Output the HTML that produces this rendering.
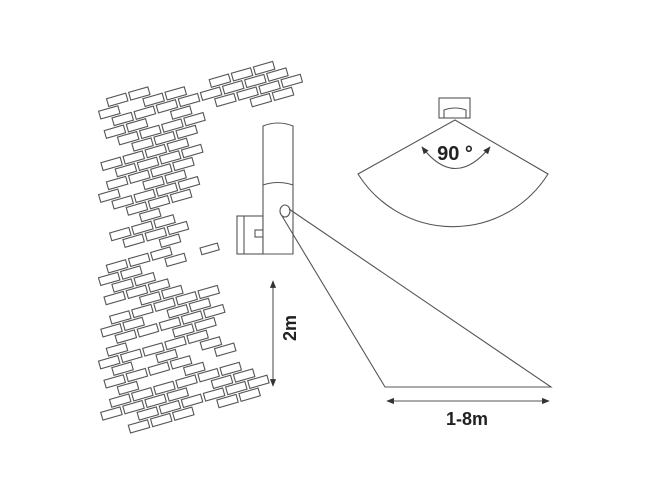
<!DOCTYPE html>
<html><head><meta charset="utf-8"><style>
html,body{margin:0;padding:0;background:#fff;}
svg{display:block;}
text{font-family:"Liberation Sans",sans-serif;font-weight:bold;fill:#222;}
</style></head><body>
<svg id="s" width="666" height="500" viewBox="0 0 666 500" xmlns="http://www.w3.org/2000/svg">
<defs>
<marker id="ah" viewBox="0 0 10 10" refX="9" refY="5" markerWidth="7" markerHeight="7" orient="auto-start-reverse"><path d="M0,1 L10,5 L0,9 z" fill="#333"/></marker>
</defs>
<g id="bricks" fill="#fff" stroke="#555" stroke-width="1.1"></g>
<g fill="#fff" stroke="#555" stroke-width="1.1">
<rect x="237" y="216" width="26" height="38"/>
<line x1="244" y1="216" x2="244" y2="254"/>
<rect x="255" y="230" width="8" height="7"/>
<path d="M263,254 L263,126 Q278,120 293,126 L293,254 Z"/>
<path d="M263,185 Q278,180 293,185" fill="none"/>
<ellipse cx="285" cy="211" rx="5" ry="6"/>
</g>
<g fill="none" stroke="#555" stroke-width="1.1">
<polyline points="289,209 551,387 385,387 282,216"/>
<line x1="273" y1="281" x2="273" y2="386" marker-start="url(#ah)" marker-end="url(#ah)"/>
<line x1="387" y1="401" x2="549" y2="401" marker-start="url(#ah)" marker-end="url(#ah)"/>
<path d="M455,120 L358,174 A112,112 0 0 0 548,174 Z"/>
<rect x="439" y="98" width="31" height="20"/>
<path d="M444,118 L444,110 Q455,106 466,110 L466,118"/>
<path d="M422,147 Q455,190 490,147" marker-start="url(#ah)" marker-end="url(#ah)"/>
</g>
<text x="455" y="160" font-size="20" text-anchor="middle">90 °</text>
<text x="467" y="425" font-size="18" text-anchor="middle">1-8m</text>
<text x="0" y="0" font-size="18" text-anchor="middle" transform="translate(296,328) rotate(-90)">2m</text>
</svg>
<script>
(function(){
var poly=[[108,100],[150,90],[240,68],[297,66],[297,96],[195,130],[190,200],[180,245],[175,288],[222,286],[218,330],[242,352],[262,372],[262,398],[140,436],[110,436],[106,300]];
function inside(x,y){var c=false;for(var i=0,j=poly.length-1;i<poly.length;j=i++){var xi=poly[i][0],yi=poly[i][1],xj=poly[j][0],yj=poly[j][1];if(((yi>y)!=(yj>y))&&(x<(xj-xi)*(y-yi)/(yj-yi)+xi))c=!c;}return c;}
var g=document.getElementById('bricks'),ns='http://www.w3.org/2000/svg';
var a=-16*Math.PI/180,ca=Math.cos(a),sa=Math.sin(a);
var seed=11;function rnd(){seed=(seed*9301+49297)%233280;return seed/233280;}
for(var r=-10;r<70;r++){for(var c=-20;c<30;c++){
 var u=c*23+(r%2?11:0), v=r*10;
 var x=60+u*ca - v*sa, y=60+u*sa + v*ca;
 var cx=x+10*ca-4*sa, cy=y+10*sa+4*ca;
 if(!inside(cx,cy))continue;
 if(rnd()<0.22)continue;
 var e=document.createElementNS(ns,'rect');
 e.setAttribute('width',20);e.setAttribute('height',8);
 e.setAttribute('transform','translate('+x.toFixed(1)+','+y.toFixed(1)+') rotate(-16)');
 g.appendChild(e);
}}
[[200,248]].forEach(function(p){var e=document.createElementNS(ns,'rect');e.setAttribute('width',18);e.setAttribute('height',7);e.setAttribute('transform','translate('+p[0]+','+p[1]+') rotate(-16)');g.appendChild(e);});
})();
</script>
</body></html>
